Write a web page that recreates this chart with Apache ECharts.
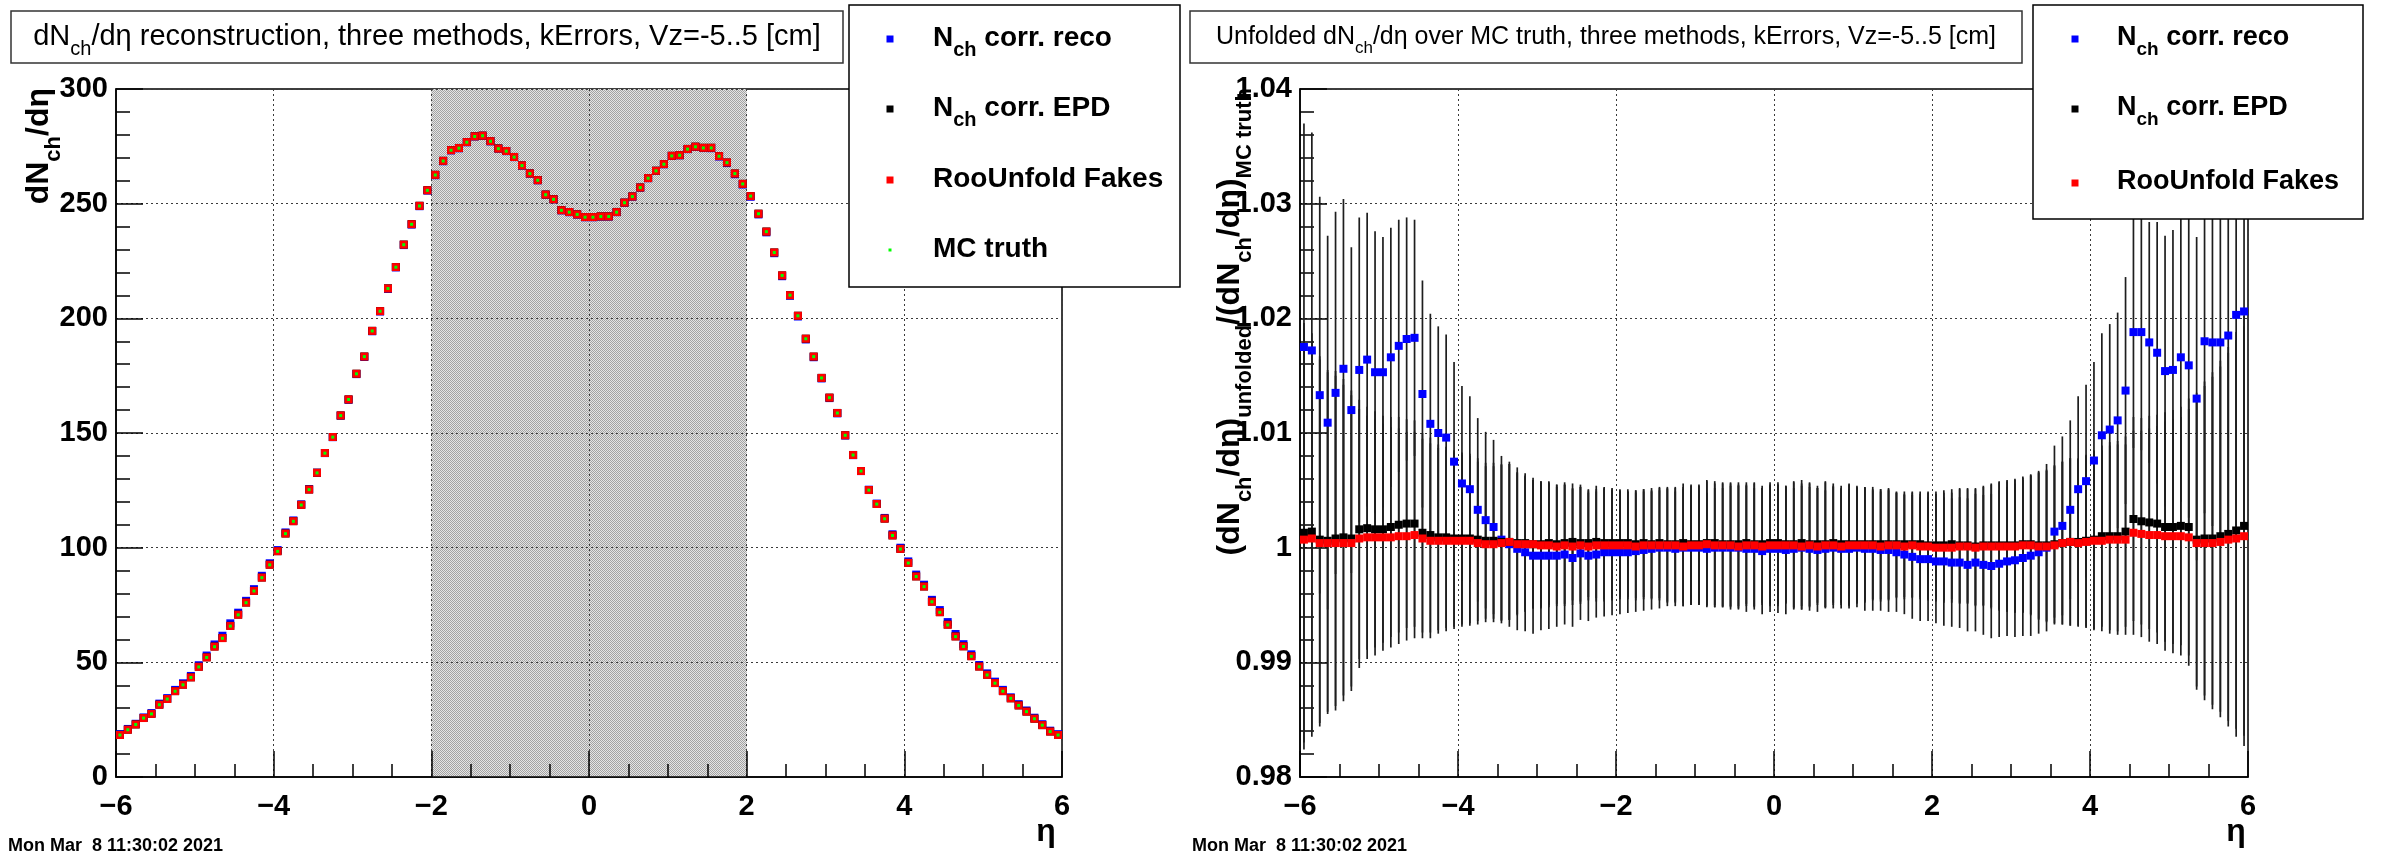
<!DOCTYPE html>
<html>
<head>
<meta charset="utf-8">
<title>dNch/deta unfolding comparison</title>
<script src="https://cdn.jsdelivr.net/npm/echarts@6/dist/echarts.min.js"></script>
<style>
  html, body { margin: 0; padding: 0; background: #ffffff; }
  #chart { width: 2382px; height: 856px; }
</style>
</head>
<body>
<div id="chart"></div>
<script>
// ---- data: 120 eta bins of width 0.1 between -6 and 6 ----
const etaCenters = [
  -5.95,-5.85,-5.75,-5.65,-5.55,-5.45,-5.35,-5.25,-5.15,-5.05,
  -4.95,-4.85,-4.75,-4.65,-4.55,-4.45,-4.35,-4.25,-4.15,-4.05,
  -3.95,-3.85,-3.75,-3.65,-3.55,-3.45,-3.35,-3.25,-3.15,-3.05,
  -2.95,-2.85,-2.75,-2.65,-2.55,-2.45,-2.35,-2.25,-2.15,-2.05,
  -1.95,-1.85,-1.75,-1.65,-1.55,-1.45,-1.35,-1.25,-1.15,-1.05,
  -0.95,-0.85,-0.75,-0.65,-0.55,-0.45,-0.35,-0.25,-0.15,-0.05,
   0.05, 0.15, 0.25, 0.35, 0.45, 0.55, 0.65, 0.75, 0.85, 0.95,
   1.05, 1.15, 1.25, 1.35, 1.45, 1.55, 1.65, 1.75, 1.85, 1.95,
   2.05, 2.15, 2.25, 2.35, 2.45, 2.55, 2.65, 2.75, 2.85, 2.95,
   3.05, 3.15, 3.25, 3.35, 3.45, 3.55, 3.65, 3.75, 3.85, 3.95,
   4.05, 4.15, 4.25, 4.35, 4.45, 4.55, 4.65, 4.75, 4.85, 4.95,
   5.05, 5.15, 5.25, 5.35, 5.45, 5.55, 5.65, 5.75, 5.85, 5.95
];

// MC truth dNch/deta
const mcTruth = [
  18.3, 20.6, 22.9, 25.7, 27.5, 31.5, 34.0, 37.4, 40.2, 43.4,
  48.0, 52.1, 56.8, 60.5, 65.8, 70.7, 76.0, 81.1, 86.9, 92.5,
  98.4,106.1,111.5,118.6,125.3,132.6,141.2,148.2,157.6,164.6,
 175.8,183.3,194.5,203.1,213.0,222.3,232.1,241.0,249.0,255.8,
 262.5,268.6,273.3,274.2,276.8,279.3,279.6,277.2,274.0,272.9,
 270.3,266.6,263.1,260.2,253.9,251.9,247.1,246.3,245.3,244.1,
 244.1,244.4,244.4,246.3,250.4,253.1,257.0,261.1,264.3,267.2,
 270.8,271.1,273.8,274.8,274.3,274.3,270.7,267.9,263.1,258.6,
 253.3,245.6,237.8,228.7,218.7,210.1,201.1,191.1,183.3,174.0,
 165.4,158.7,149.0,140.4,133.4,125.1,119.0,112.6,105.3, 99.4,
  93.3, 87.4, 83.0, 76.4, 71.8, 66.3, 61.2, 56.9, 52.6, 48.1,
  44.5, 40.9, 37.4, 34.3, 31.2, 28.5, 25.4, 22.6, 19.8, 18.3
];

// unfolded / MC truth, Nch corr. reco
const ratioReco = [
  1.0175,1.0172,1.0133,1.0109,1.0135,1.0156,1.0120,1.0155,1.0164,1.0153,
  1.0153,1.0166,1.0176,1.0182,1.0183,1.0134,1.0108,1.0100,1.0096,1.0075,
  1.0056,1.0051,1.0033,1.0024,1.0018,1.0007,1.0003,0.9999,0.9996,0.9993,
  0.9993,0.9993,0.9993,0.9994,0.9991,0.9995,0.9993,0.9994,0.9996,0.9996,
  0.9996,0.9996,0.9997,0.9998,0.9999,1.0000,1.0000,0.9999,1.0000,1.0000,
  1.0000,0.9999,1.0000,1.0000,1.0000,1.0000,0.9999,0.9999,0.9997,0.9999,
  0.9999,0.9998,0.9999,1.0000,0.9999,0.9998,0.9999,1.0000,0.9999,0.9999,
  1.0000,0.9999,0.9999,0.9998,0.9998,0.9996,0.9994,0.9992,0.9990,0.9990,
  0.9988,0.9988,0.9987,0.9987,0.9985,0.9987,0.9985,0.9984,0.9986,0.9988,
  0.9989,0.9991,0.9993,0.9996,1.0000,1.0014,1.0019,1.0033,1.0051,1.0058,
  1.0076,1.0098,1.0103,1.0111,1.0137,1.0188,1.0188,1.0179,1.0170,1.0154,
  1.0155,1.0166,1.0159,1.0130,1.0180,1.0179,1.0179,1.0185,1.0203,1.0206
];

// unfolded / MC truth, Nch corr. EPD
const ratioEPD = [
  1.0013,1.0014,1.0007,1.0006,1.0008,1.0009,1.0008,1.0016,1.0017,1.0016,
  1.0016,1.0018,1.0020,1.0021,1.0021,1.0013,1.0011,1.0009,1.0009,1.0008,
  1.0008,1.0008,1.0007,1.0006,1.0006,1.0005,1.0005,1.0004,1.0004,1.0003,
  1.0003,1.0004,1.0003,1.0004,1.0005,1.0004,1.0004,1.0005,1.0004,1.0004,
  1.0004,1.0004,1.0003,1.0004,1.0003,1.0004,1.0003,1.0003,1.0004,1.0003,
  1.0003,1.0004,1.0004,1.0003,1.0003,1.0003,1.0004,1.0003,1.0003,1.0004,
  1.0004,1.0003,1.0003,1.0004,1.0003,1.0003,1.0003,1.0004,1.0003,1.0003,
  1.0003,1.0003,1.0003,1.0003,1.0003,1.0003,1.0003,1.0003,1.0003,1.0002,
  1.0002,1.0002,1.0003,1.0002,1.0002,1.0001,1.0002,1.0002,1.0002,1.0002,
  1.0002,1.0003,1.0003,1.0002,1.0002,1.0003,1.0004,1.0005,1.0005,1.0006,
  1.0007,1.0010,1.0010,1.0010,1.0014,1.0025,1.0023,1.0022,1.0021,1.0018,
  1.0018,1.0019,1.0018,1.0007,1.0008,1.0008,1.0010,1.0012,1.0015,1.0019
];

// unfolded / MC truth, RooUnfold Fakes
const ratioFakes = [
  1.0007,1.0008,1.0004,1.0004,1.0004,1.0004,1.0004,1.0008,1.0009,1.0009,
  1.0009,1.0009,1.0010,1.0010,1.0011,1.0008,1.0006,1.0006,1.0006,1.0006,
  1.0006,1.0006,1.0004,1.0003,1.0003,1.0004,1.0005,1.0003,1.0003,1.0003,
  1.0002,1.0002,1.0001,1.0002,1.0001,1.0002,1.0001,1.0002,1.0002,1.0002,
  1.0002,1.0002,1.0001,1.0002,1.0002,1.0002,1.0002,1.0002,1.0001,1.0002,
  1.0002,1.0003,1.0002,1.0002,1.0002,1.0001,1.0002,1.0002,1.0001,1.0002,
  1.0002,1.0002,1.0002,1.0001,1.0002,1.0001,1.0002,1.0002,1.0001,1.0002,
  1.0002,1.0002,1.0002,1.0001,1.0002,1.0002,1.0001,1.0002,1.0001,1.0001,
  1.0000,1.0000,1.0000,1.0001,1.0001,1.0000,1.0001,1.0001,1.0001,1.0001,
  1.0001,1.0002,1.0002,1.0001,1.0001,1.0002,1.0004,1.0005,1.0004,1.0005,
  1.0006,1.0006,1.0007,1.0007,1.0007,1.0013,1.0012,1.0011,1.0011,1.0010,
  1.0010,1.0010,1.0009,1.0004,1.0004,1.0004,1.0005,1.0007,1.0008,1.0010
];

// statistical errors on the ratios
const errReco = [
  0.0195,0.0190,0.0173,0.0163,0.0158,0.0148,0.0142,0.0133,0.0128,0.0123,
  0.0118,0.0113,0.0110,0.0106,0.0103,0.0099,0.0096,0.0093,0.0090,0.0087,
  0.0085,0.0081,0.0080,0.0077,0.0076,0.0073,0.0072,0.0071,0.0069,0.0068,
  0.0065,0.0064,0.0062,0.0061,0.0060,0.0058,0.0057,0.0055,0.0056,0.0055,
  0.0054,0.0053,0.0053,0.0053,0.0053,0.0053,0.0051,0.0050,0.0051,0.0050,
  0.0050,0.0049,0.0052,0.0052,0.0054,0.0054,0.0055,0.0053,0.0055,0.0055,
  0.0056,0.0056,0.0053,0.0054,0.0054,0.0054,0.0051,0.0053,0.0052,0.0052,
  0.0052,0.0054,0.0054,0.0053,0.0054,0.0052,0.0052,0.0054,0.0054,0.0054,
  0.0054,0.0056,0.0056,0.0057,0.0058,0.0060,0.0061,0.0063,0.0064,0.0065,
  0.0067,0.0068,0.0070,0.0071,0.0073,0.0075,0.0078,0.0078,0.0081,0.0084,
  0.0086,0.0089,0.0092,0.0094,0.0099,0.0101,0.0103,0.0105,0.0114,0.0118,
  0.0122,0.0126,0.0133,0.0141,0.0150,0.0160,0.0170,0.0180,0.0190,0.0200
];

const errEPDFakes = [
  0.0183,0.0173,0.0160,0.0149,0.0146,0.0138,0.0129,0.0113,0.0106,0.0103,
  0.0099,0.0096,0.0094,0.0091,0.0090,0.0087,0.0085,0.0081,0.0079,0.0077,
  0.0075,0.0074,0.0071,0.0068,0.0068,0.0068,0.0068,0.0062,0.0059,0.0056,
  0.0055,0.0054,0.0052,0.0053,0.0051,0.0051,0.0047,0.0049,0.0049,0.0048,
  0.0047,0.0047,0.0047,0.0047,0.0047,0.0048,0.0050,0.0050,0.0052,0.0052,
  0.0052,0.0055,0.0054,0.0054,0.0054,0.0054,0.0053,0.0054,0.0051,0.0053,
  0.0053,0.0051,0.0055,0.0055,0.0054,0.0051,0.0055,0.0052,0.0051,0.0053,
  0.0051,0.0050,0.0048,0.0048,0.0048,0.0046,0.0046,0.0046,0.0046,0.0047,
  0.0047,0.0048,0.0048,0.0050,0.0050,0.0051,0.0052,0.0054,0.0056,0.0057,
  0.0058,0.0059,0.0061,0.0064,0.0066,0.0069,0.0071,0.0073,0.0073,0.0075,
  0.0078,0.0079,0.0082,0.0083,0.0083,0.0089,0.0090,0.0093,0.0095,0.0100,
  0.0102,0.0104,0.0112,0.0128,0.0137,0.0145,0.0153,0.0163,0.0173,0.0183
];

const seriesNames = ['N_ch corr. reco', 'N_ch corr. EPD', 'RooUnfold Fakes', 'MC truth'];
const seriesColors = ['#0000ff', '#000000', '#ff0000', '#00ff00'];
const leftTitle = 'dN_ch/dη reconstruction, three methods, kErrors, Vz=-5..5 [cm]';
const rightTitle = 'Unfolded dN_ch/dη over MC truth, three methods, kErrors, Vz=-5..5 [cm]';
const leftYTitle = 'dN_ch/dη';
const rightYTitle = '(dN_ch/dη)_unfolded/(dN_ch/dη)_MC truth';
const stampText = 'Mon Mar  8 11:30:02 2021';
const etaBand = [-2, 2];

// ---- helpers ----
const FONT = '"Liberation Sans", Arial, Helvetica, sans-serif';

const pts = (vals) => etaCenters.map((e, i) => [e, vals[i]]);
const scaled = (ratio) => etaCenters.map((e, i) => [e, mcTruth[i] * ratio[i]]);
const errData = (vals, errs) => etaCenters.map((e, i) => [e, vals[i] - errs[i], vals[i] + errs[i]]);

function errorBarSeries(vals, errs) {
  return {
    type: 'custom',
    xAxisIndex: 1, yAxisIndex: 1,
    clip: true,
    silent: true,
    z: 3,
    encode: { x: 0, y: [1, 2] },
    data: errData(vals, errs),
    renderItem: (params, api) => {
      const a = api.coord([api.value(0), api.value(1)]);
      const b = api.coord([api.value(0), api.value(2)]);
      return {
        type: 'line',
        shape: { x1: a[0], y1: a[1], x2: b[0], y2: b[1] },
        style: { stroke: '#1e1e1e', lineWidth: 1.7 }
      };
    }
  };
}

function markerSeries(data, color, size, xi, z) {
  return {
    type: 'scatter', xAxisIndex: xi, yAxisIndex: xi, data,
    symbol: 'rect', symbolSize: size, silent: true, z: z,
    itemStyle: { color: color, borderWidth: 0, opacity: 1 },
    emphasis: { disabled: true }
  };
}

// dotted grey fill of the -2..2 band
const pat = document.createElement('canvas');
pat.width = 2; pat.height = 2;
const pg = pat.getContext('2d');
pg.fillStyle = '#a2a2a2'; pg.fillRect(0, 0, 1, 1); pg.fillRect(1, 1, 1, 1);
pg.fillStyle = '#e4e4e4'; pg.fillRect(1, 0, 1, 1); pg.fillRect(0, 1, 1, 1);

const axisLabelStyle = { fontFamily: FONT, fontWeight: 'bold', fontSize: 29, color: '#000' };
const blackLine = { color: '#000', width: 1.5 };
const gridLine = { show: true, lineStyle: { color: '#3a3a3a', width: 1, type: [2, 3] } };

function xAxisCfg(gi) {
  return {
    gridIndex: gi, type: 'value', min: -6, max: 6, interval: 2, z: 2,
    axisLine: { onZero: false, lineStyle: blackLine },
    axisTick: { inside: true, length: 26, lineStyle: blackLine },
    minorTick: { show: true, splitNumber: 4, length: 13, lineStyle: blackLine },
    splitLine: gridLine,
    axisLabel: Object.assign({}, axisLabelStyle, {
      margin: 15, showMinLabel: true, showMaxLabel: true,
      formatter: v => (v < 0 ? '\u2212' + Math.abs(v) : String(v))
    })
  };
}

function yAxisCfg(gi, min, max, interval, fmt) {
  return {
    gridIndex: gi, type: 'value', min: min, max: max, interval: interval, z: 2,
    axisLine: { show: true, onZero: false, lineStyle: blackLine },
    axisTick: { show: true, inside: true, length: 27, lineStyle: blackLine },
    minorTick: { show: true, splitNumber: 5, length: 14, lineStyle: blackLine },
    splitLine: gridLine,
    axisLabel: Object.assign({}, axisLabelStyle, { margin: 8, showMinLabel: true, showMaxLabel: true, formatter: fmt })
  };
}

// ---- text styles ----
const richTitle = (size) => ({
  m: { fontFamily: FONT, fontSize: size, fill: '#000', color: '#000', verticalAlign: 'bottom', padding: [0, 0, Math.round(size * 0.27), 0] },
  s: { fontFamily: FONT, fontSize: Math.round(size * 0.68), fill: '#000', color: '#000', verticalAlign: 'bottom' }
});
const richBold = (size) => ({
  m: { fontFamily: FONT, fontWeight: 'bold', fontSize: size, fill: '#000', color: '#000', verticalAlign: 'bottom', padding: [0, 0, Math.round(size * 0.3), 0] },
  s: { fontFamily: FONT, fontWeight: 'bold', fontSize: Math.round(size * 0.7), fill: '#000', color: '#000', verticalAlign: 'bottom' }
});

// "dN_ch/dη" -> rich tokens; a subscript run ends at '/' or end of string
function toRich(str) {
  let out = '';
  let i = 0;
  let buf = '';
  while (i < str.length) {
    if (str[i] === '_') {
      if (buf) { out += '{m|' + buf + '}'; buf = ''; }
      let j = i + 1, sub = '';
      while (j < str.length && str[j] !== '/' && !(str[j] === ' ' && sub.length && sub !== 'MC')) { sub += str[j]; j++; }
      out += '{s|' + sub + '}';
      i = j;
    } else { buf += str[i]; i++; }
  }
  if (buf) out += '{m|' + buf + '}';
  return out;
}

const graphics = [];

// title panes
function titlePane(x, w, text, size) {
  graphics.push({
    type: 'rect', z: 100, shape: { x: x, y: 11, width: w, height: 52 },
    style: { fill: '#fff', stroke: '#333', lineWidth: 1.5 }
  });
  graphics.push({
    type: 'text', z: 101, x: x + w / 2, y: 41,
    style: { text: toRich(text), rich: richTitle(size), align: 'center', verticalAlign: 'middle' }
  });
}
titlePane(11, 832, leftTitle, 29);
titlePane(1190, 832, rightTitle, 25);

// legends
function legendPane(x, y, w, h, rows, markX, textX, count, size) {
  graphics.push({
    type: 'rect', z: 100, shape: { x: x, y: y, width: w, height: h },
    style: { fill: '#fff', stroke: '#000', lineWidth: 1.5 }
  });
  for (let i = 0; i < count; i++) {
    const ms = i === 3 ? 3 : 7;
    graphics.push({
      type: 'rect', z: 101, shape: { x: markX - ms / 2, y: rows[i] - ms / 2, width: ms, height: ms },
      style: { fill: seriesColors[i] }
    });
    graphics.push({
      type: 'text', z: 101, x: textX, y: rows[i] + 3,
      style: { text: toRich(seriesNames[i]), rich: richBold(size), align: 'left', verticalAlign: 'middle' }
    });
  }
}
legendPane(849, 5, 331, 282, [39, 109, 180, 250], 890, 933, 4, 28);
legendPane(2033, 5, 330, 214, [39, 109, 183], 2075, 2117, 3, 27);

// axis titles
graphics.push({
  type: 'text', z: 50, x: 44, y: 88, rotation: Math.PI / 2,
  style: { text: toRich(leftYTitle), rich: richBold(32), align: 'right', verticalAlign: 'middle' }
});
graphics.push({
  type: 'text', z: 50, x: 1235, y: 88, rotation: Math.PI / 2,
  style: { text: toRich(rightYTitle), rich: richBold(32), align: 'right', verticalAlign: 'middle' }
});
[1046, 2236].forEach(x => graphics.push({
  type: 'text', z: 50, x: x, y: 832,
  style: { text: 'η', fontFamily: FONT, fontWeight: 'bold', fontSize: 32, fill: '#000', align: 'center', verticalAlign: 'middle' }
}));
[8, 1192].forEach(x => graphics.push({
  type: 'text', z: 50, x: x, y: 846,
  style: { text: stampText, fontFamily: FONT, fontWeight: 'bold', fontSize: 18, fill: '#000', align: 'left', verticalAlign: 'middle' }
}));

const option = {
  animation: false,
  backgroundColor: '#ffffff',
  grid: [
    { left: 116, top: 89, width: 946, height: 688, show: true, borderColor: '#000', borderWidth: 1.5, backgroundColor: 'transparent', outerBoundsMode: 'none', containLabel: false },
    { left: 1300, top: 89, width: 948, height: 688, show: true, borderColor: '#000', borderWidth: 1.5, backgroundColor: 'transparent', outerBoundsMode: 'none', containLabel: false }
  ],
  xAxis: [xAxisCfg(0), xAxisCfg(1)],
  yAxis: [
    yAxisCfg(0, 0, 300, 50, v => String(v)),
    yAxisCfg(1, 0.98, 1.04, 0.01, v => String(+v.toFixed(2)))
  ],
  series: [
    // eta band
    {
      type: 'scatter', xAxisIndex: 0, yAxisIndex: 0, data: [], z: 1, silent: true,
      markArea: {
        silent: true,
        itemStyle: { color: { image: pat, repeat: 'repeat' }, opacity: 1 },
        data: [[{ xAxis: etaBand[0] }, { xAxis: etaBand[1] }]]
      }
    },
    // left panel: dNch/deta
    markerSeries(scaled(ratioReco), seriesColors[0], 8, 0, 4),
    markerSeries(scaled(ratioEPD), seriesColors[1], 8, 0, 5),
    markerSeries(scaled(ratioFakes), seriesColors[2], 8, 0, 6),
    markerSeries(pts(mcTruth), seriesColors[3], 3, 0, 7),
    // right panel: ratios with errors
    errorBarSeries(ratioReco, errReco),
    errorBarSeries(ratioEPD, errEPDFakes),
    errorBarSeries(ratioFakes, errEPDFakes),
    markerSeries(pts(ratioReco), seriesColors[0], 8, 1, 4),
    markerSeries(pts(ratioEPD), seriesColors[1], 8, 1, 5),
    markerSeries(pts(ratioFakes), seriesColors[2], 8, 1, 6)
  ],
  graphic: graphics
};

const chart = echarts.init(document.getElementById('chart'), null, { renderer: 'canvas', width: 2382, height: 856 });
chart.setOption(option);
</script>
</body>
</html>
